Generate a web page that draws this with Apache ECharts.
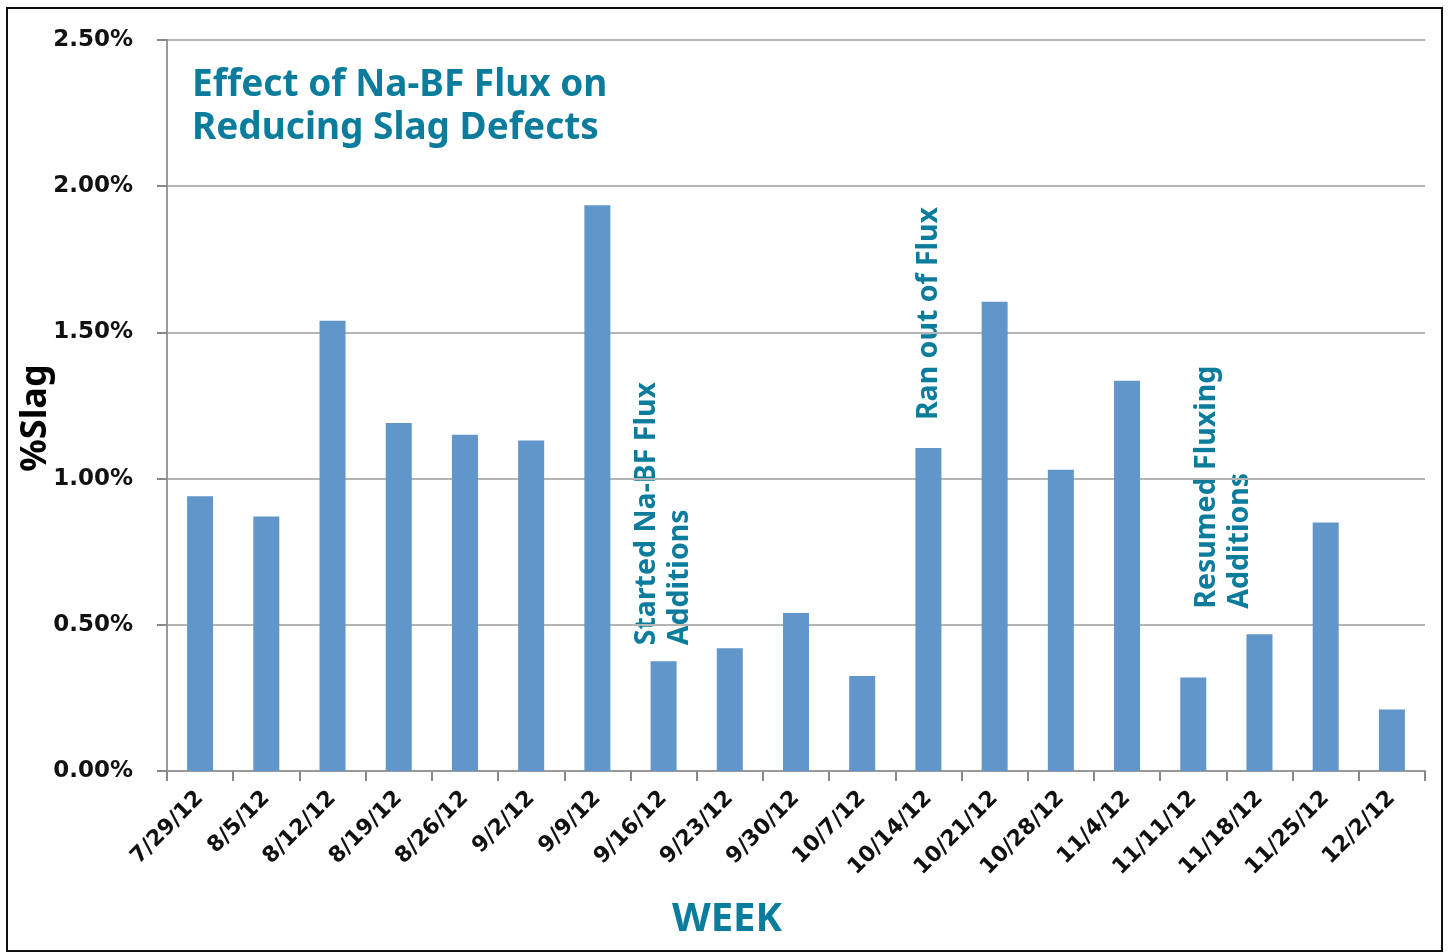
<!DOCTYPE html>
<html>
<head>
<meta charset="utf-8">
<script src="https://cdn.jsdelivr.net/npm/echarts@6/dist/echarts.min.js"></script>
<style>
	html, body { margin: 0; padding: 0; background: #fff; }
	#c { width: 1449px; height: 952px; }
</style>
</head>
<body>
<div id="c"></div>
<script>
// weeks on the x axis
var weeks = ['7/29/12', '8/5/12', '8/12/12', '8/19/12', '8/26/12', '9/2/12', '9/9/12',
	'9/16/12', '9/23/12', '9/30/12', '10/7/12', '10/14/12', '10/21/12', '10/28/12',
	'11/4/12', '11/11/12', '11/18/12', '11/25/12', '12/2/12']

// %slag per week (in %)
var slag = [0.94, 0.87, 1.54, 1.19, 1.15, 1.13, 1.935,
	0.375, 0.42, 0.54, 0.325, 1.105, 1.605, 1.03,
	1.335, 0.32, 0.468, 0.85, 0.21]

// notes: [x position in category units, value at text bottom, lines]
var notes = [
	[7, 0.43, ['Started Na-BF Flux', 'Additions']],
	[11, 1.2, ['Ran out of Flux']],
	[15.45, 0.555, ['Resumed Fluxing', 'Additions']]
]

var teal = '#0b7c9c'
var chart = echarts.init(document.getElementById('c'))

var option = {
	animation: false,
	backgroundColor: '#fff',
	grid: { left: 167, right: 24, top: 40, bottom: 181 },
	xAxis: {
		type: 'category',
		data: weeks,
		axisLine: { lineStyle: { color: '#999', width: 2 } },
		axisTick: { show: true, length: 10, lineStyle: { color: '#888', width: 2 } },
		axisLabel: {
			rotate: 45,
			margin: 24,
			fontFamily: 'DejaVu Sans',
			fontWeight: 'bold',
			fontSize: 22,
			color: '#111'
		}
	},
	yAxis: {
		type: 'value',
		min: 0,
		max: 2.5,
		interval: 0.5,
		axisLine: { show: true, lineStyle: { color: '#999', width: 2 } },
		axisTick: { show: true, length: 10, lineStyle: { color: '#888', width: 2 } },
		splitLine: { lineStyle: { color: '#b5b5b5', width: 2 } },
		axisLabel: {
			margin: 34,
			fontFamily: 'DejaVu Sans',
			fontWeight: 'bold',
			fontSize: 23,
			color: '#111',
			formatter: function(v) { return v.toFixed(2) + '%' }
		}
	},
	series: [{
		type: 'bar',
		data: slag,
		barWidth: 26,
		itemStyle: { color: '#6096c9' }
	}],
	graphic: [{
		type: 'rect',
		shape: { x: 7, y: 8, width: 1435, height: 943 },
		style: { fill: 'none', stroke: '#111', lineWidth: 2 },
		silent: true
	}, {
		type: 'text',
		left: 192,
		top: 64,
		style: {
			text: 'Effect of Na-BF Flux on\nReducing Slag Defects',
			font: 'bold 37px "Noto Sans"',
			lineHeight: 43,
			fill: teal
		}
	}, {
		type: 'text',
		x: 36,
		y: 418,
		rotation: Math.PI / 2,
		style: {
			text: '%Slag',
			font: 'bold 36px "Noto Sans"',
			fill: '#000',
			align: 'center',
			verticalAlign: 'middle'
		}
	}, {
		type: 'text',
		x: 727,
		y: 920,
		style: {
			text: 'WEEK',
			font: 'bold 40px "Noto Sans"',
			fill: teal,
			align: 'center',
			verticalAlign: 'middle'
		}
	}]
}

chart.setOption(option)

// place the vertical notes from axis coordinates
var noteGraphics = notes.map(function(n) {
	var base = chart.convertToPixel({ gridIndex: 0 }, [Math.floor(n[0]), n[1]])
	var step = chart.convertToPixel({ gridIndex: 0 }, [1, 0])[0] - chart.convertToPixel({ gridIndex: 0 }, [0, 0])[0]
	var x = base[0] + (n[0] - Math.floor(n[0])) * step
	return {
		type: 'text',
		x: x,
		y: base[1],
		rotation: Math.PI / 2,
		style: {
			text: n[2].join('\n'),
			font: 'bold 28.5px "Noto Sans"',
			lineHeight: 33,
			fill: teal,
			align: 'left',
			verticalAlign: 'middle'
		}
	}
})

chart.setOption({ graphic: option.graphic.concat(noteGraphics) })
</script>
</body>
</html>
